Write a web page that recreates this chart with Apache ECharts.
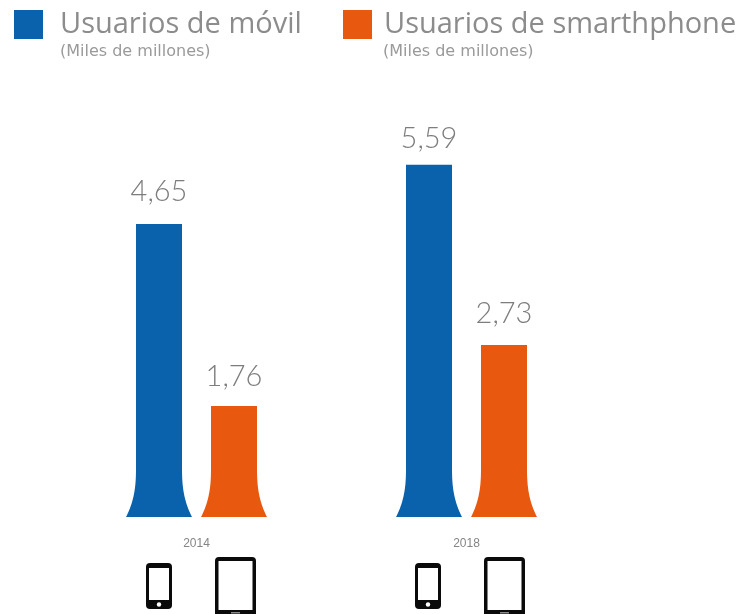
<!DOCTYPE html>
<html>
<head>
<meta charset="utf-8">
<style>html,body{margin:0;padding:0;background:#fff}#c{width:737px;height:614px;filter:blur(0.6px)}</style>
<script src="https://cdn.jsdelivr.net/npm/echarts@6/dist/echarts.min.js"></script>
</head>
<body>
<div id="c"></div>
<script>
const years = ['2014', '2018'];
const movil = [4.65, 5.59];
const smartphone = [1.76, 2.73];
const nameMovil = 'Usuarios de móvil';
const nameSmart = 'Usuarios de smarthphone';
const unit = '(Miles de millones)';

const BLUE = '#0a62ad', ORANGE = '#e8590f', GREY = '#858585';
const chart = echarts.init(document.getElementById('c'), null, {renderer: 'canvas'});

function flaredBar(offset, color, labelDy) {
  return function (params, api) {
    const cat = api.value(0);
    const val = api.value(1);
    const top = api.coord([cat, val]);
    const base = api.coord([cat, 0]);
    const cx = top[0] + offset;
    const half = 23, flare = 10, flareH = 50;
    const left = [], right = [];
    left.push([cx - half, top[1]]);
    right.push([cx + half, top[1]]);
    for (let i = 0; i <= 24; i++) {
      const t = i / 24;
      const y = base[1] - flareH + flareH * t;
      const dx = flare * Math.pow(t, 2.6);
      left.push([cx - half - dx, y]);
      right.push([cx + half + dx, y]);
    }
    const points = left.concat(right.reverse());
    return {
      type: 'group',
      children: [
        {type: 'polygon', shape: {points}, style: {fill: color}},
        {type: 'text', style: {
          x: cx, y: top[1] - labelDy[params.dataIndex],
          text: String(val).replace('.', ','),
          align: 'center', verticalAlign: 'middle',
          font: '300 29px Lato, "Open Sans", sans-serif', fill: '#7d7d7d'
        }}
      ]
    };
  };
}

function legendCfg(name, left, gap) {
  return {
    data: [name], left, top: 10, orient: 'horizontal', padding: 0,
    icon: 'rect', itemWidth: 29, itemHeight: 29, selectedMode: false,
    align: 'left',
    textStyle: {fontFamily: '"Open Sans", sans-serif', fontSize: 29, fontWeight: 400, color: '#8c8c8c', padding: [0, 0, 0, gap]}
  };
}

function subtitle(x) {
  return {type: 'text', x, y: 52, style: {
    text: unit, font: '16px "DejaVu Sans", sans-serif', fill: '#9a9a9a',
    align: 'left', verticalAlign: 'middle'
  }};
}

function phone(x) {
  return {type: 'group', x, y: 563, children: [
    {type: 'rect', shape: {x: 0, y: 0, width: 26, height: 46, r: 4}, style: {fill: '#0a0a0a'}},
    {type: 'rect', shape: {x: 3, y: 5, width: 20, height: 32}, style: {fill: '#fff'}},
    {type: 'circle', shape: {cx: 13, cy: 41.5, r: 2.2}, style: {fill: '#fff'}}
  ]};
}
function tablet(x) {
  return {type: 'group', x, y: 557, children: [
    {type: 'rect', shape: {x: 0, y: 0, width: 41, height: 60, r: 4}, style: {fill: '#0a0a0a'}},
    {type: 'rect', shape: {x: 3.5, y: 4, width: 34, height: 49}, style: {fill: '#fff'}},
    {type: 'rect', shape: {x: 16, y: 55, width: 9, height: 1.5}, style: {fill: '#888'}}
  ]};
}

chart.setOption({
  animation: false,
  backgroundColor: '#fff',
  legend: [legendCfg(nameMovil, 14, 12), legendCfg(nameSmart, 343, 7)],
  grid: {left: 61.5, width: 540, top: 139, bottom: 97},
  xAxis: {
    type: 'category', data: years,
    axisLine: {show: false}, axisTick: {show: false},
    axisLabel: {margin: 21, fontSize: 12, color: GREY, fontFamily: 'Liberation Sans, sans-serif'}
  },
  yAxis: {type: 'value', min: 0, max: 6, show: false},
  series: [
    {name: nameMovil, type: 'custom', itemStyle: {color: BLUE},
     data: movil.map((v, i) => [i, v]), encode: {x: 0, y: 1},
     renderItem: flaredBar(-37.5, BLUE, [32, 26])},
    {name: nameSmart, type: 'custom', itemStyle: {color: ORANGE},
     data: smartphone.map((v, i) => [i, v]), encode: {x: 0, y: 1},
     renderItem: flaredBar(37.5, ORANGE, [29, 31])}
  ],
  graphic: [subtitle(60), subtitle(383), phone(146), tablet(215), phone(415), tablet(484)]
});
</script>
</body>
</html>
